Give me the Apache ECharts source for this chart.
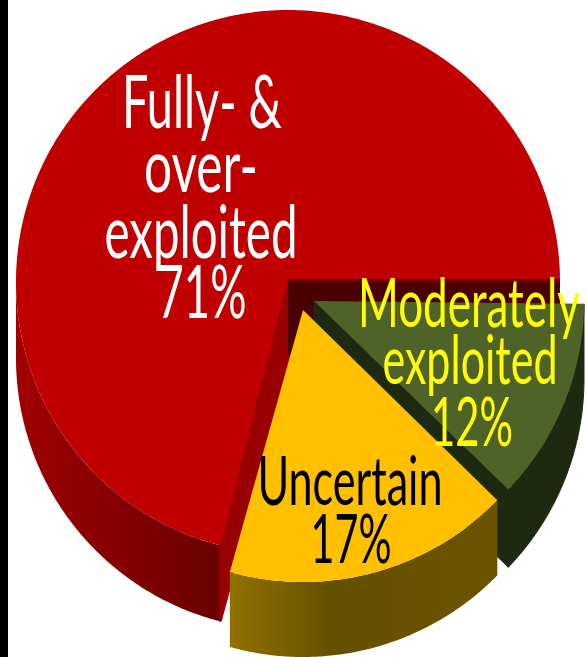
<!DOCTYPE html>
<html>
<head>
<meta charset="utf-8">
<style>html,body{margin:0;padding:0;background:#fff;overflow:hidden}#chart{width:587px;height:657px}</style>
<script src="https://cdn.jsdelivr.net/npm/echarts@6/dist/echarts.min.js"></script>
</head>
<body>
<div id="chart"></div>
<script>
// Stock status shares, in percent, going counter-clockwise from due east.
const categories = ['Fully- & over-exploited', 'Uncertain', 'Moderately exploited'];
const shares = [71, 17, 12];
const labelLines = [['Fully- &', 'over-', 'exploited'], ['Uncertain'], ['Moderately', 'exploited']];

// Drawing styles for each slice, in the same order as the categories.
// ax/ay is the slice tip, rimCy the centre height of its rim, turn a small rotation in degrees.
const RADIUS = 272;
const sliceStyles = [
  { ax: 288, ay: 279, cx: 288, rimCy: 282, turn: 0, trim: 0.63, depth: 76, top: '#c00000', side: ['#a00000', '#6a0000'], sideFrom: 16, sideTo: 218, wall: '#990000', z: 1 },
  { ax: 303, ay: 310, cx: 303, rimCy: 310, turn: -1.2, trim: 0, depth: 75, top: '#ffc000', side: ['#8f7000', '#655000', '#6b5300'], sideFrom: 232, sideTo: 495, wall: null, z: 3 },
  { ax: 314, ay: 301, cx: 312, rimCy: 301, turn: -0.6, trim: 0, depth: 78, top: '#4f6228', side: ['#1e2a10', '#1e2a10'], sideFrom: 314, sideTo: 587, wall: '#1e2a10', z: 2 }
];
// Placement of every text line: centre x, baseline y, drawn width, font size.
const labelPlacement = [
  [[202, 127, 160, 73], [201, 191, 114, 73], [201, 257, 193, 73], [202, 317, 89, 73]],
  [[350, 504, 185, 67], [351, 562, 81, 67]],
  [[469, 326, 222, 67], [470, 383, 175, 67], [472, 445, 82, 67]]
];
const labelColors = ['#ffffff', '#000000', '#ffff00'];
const FONT_FAMILY = 'Lato, "Open Sans", sans-serif';

const total = shares.reduce((a, b) => a + b, 0);
const measure = document.createElement('canvas').getContext('2d');

function arcPoints(style, from, to, drop) {
  const pts = [];
  const steps = Math.max(2, Math.ceil((to - from) * 2));
  for (let i = 0; i <= steps; i++) {
    const a = (from + (to - from) * i / steps) * Math.PI / 180;
    pts.push([style.cx + RADIUS * Math.cos(a), style.rimCy - RADIUS * Math.sin(a) + drop]);
  }
  return pts;
}

function sideGradient(style) {
  const n = style.side.length - 1;
  return {
    type: 'linear', global: true,
    x: style.sideFrom, y: 0, x2: style.sideTo, y2: 0,
    colorStops: style.side.map((color, i) => ({ offset: n === 2 && i === 1 ? 0.38 : i / n, color }))
  };
}

function labelElements(index, z2) {
  const lines = labelLines[index].concat(shares[index] + '%');
  return lines.map((text, i) => {
    const [x, baseline, width, size] = labelPlacement[index][i];
    const font = size + 'px ' + FONT_FAMILY;
    measure.font = font;
    return {
      type: 'text', x: x, y: baseline - size * 0.3 - 1, z2: z2,
      scaleX: width / measure.measureText(text).width, scaleY: 1,
      style: { text, font, fill: labelColors[index], align: 'center', verticalAlign: 'middle' }
    };
  });
}

function renderSlice(params) {
  const i = params.dataIndex;
  const s = sliceStyles[i];
  let startShare = 0;
  for (let k = 0; k < i; k++) startShare += shares[k];
  const from = startShare / total * 360 + s.turn + s.trim;
  const to = (startShare + shares[i]) / total * 360 + s.turn;
  const apex = [s.ax, s.ay];
  const z = s.z * 10;
  const children = [];

  // Outer rim, only for the part of the arc that faces the viewer.
  const rimFrom = Math.max(from, 180);
  const rim = arcPoints(s, rimFrom, to, 0);
  const rimGradient = sideGradient(s);
  children.push({
    type: 'polygon', z2: z,
    shape: { points: rim.concat(arcPoints(s, rimFrom, to, s.depth).reverse()) },
    style: { fill: rimGradient, stroke: s.wall && i > 0 ? s.wall : null, lineWidth: s.wall && i > 0 ? 1 : 0 }
  });

  // Cut faces running down from the tip; innerShift widens the foot of the face.
  const cut = (deg, fill, zz, spread, innerShift) => {
    const edge = arcPoints(s, deg, deg, 0)[0];
    return {
      type: 'polygon', z2: zz,
      shape: { points: [apex, edge, [edge[0], edge[1] + s.depth], [apex[0] + innerShift, apex[1] + s.depth], [apex[0] + innerShift, apex[1]]] },
      style: { fill, stroke: spread ? fill : null, lineWidth: spread || 0, lineJoin: 'bevel' }
    };
  };
  if (i === 0) {
    children.push(cut(to, s.wall, z + 1, 2.5, 5));
    children.push(cut(from, {
      type: 'linear', global: true, x: 0, y: s.ay, x2: 0, y2: s.ay + 6,
      colorStops: [{ offset: 0, color: '#640000' }, { offset: 0.7, color: '#640000' }, { offset: 0.7, color: '#4a0000' }, { offset: 1, color: '#4a0000' }]
    }, z + 2, 0, 0));
  } else if (s.wall) {
    children.push(cut(from, s.wall, z + 1, 1, 0));
  }

  // Top face of the slice.
  children.push({
    type: 'polygon', z2: z + 3,
    shape: { points: [apex].concat(arcPoints(s, from, to, 0)) },
    style: { fill: s.top }
  });

  return { type: 'group', children: children.concat(labelElements(i, 100)) };
}

const chart = echarts.init(document.getElementById('chart'), null, { renderer: 'canvas' });
chart.setOption({
  animation: false,
  backgroundColor: '#ffffff',
  graphic: [{ type: 'rect', shape: { x: 0, y: 0, width: 8, height: 657 }, style: { fill: '#000000' } }],
  series: [{
    type: 'custom',
    coordinateSystem: 'none',
    silent: true,
    clip: false,
    renderItem: renderSlice,
    data: categories.map((name, i) => ({ name, value: shares[i] }))
  }]
});
</script>
</body>
</html>
